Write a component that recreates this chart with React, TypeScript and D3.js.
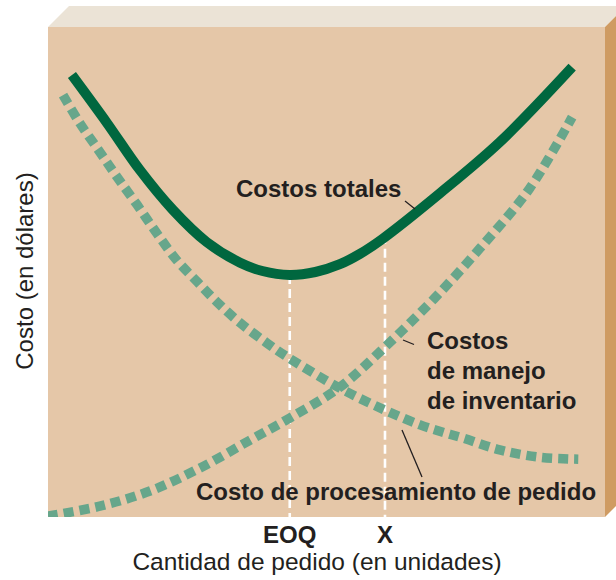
import React from "react";
import * as d3 from "d3";

// Order quantity (0-100) vs cost (0-100)
const totalCost: [number, number][] = [
  [4.3, 90.2], [10.6, 80.4], [16.5, 70.8], [22.4, 62.7], [28.5, 56.1],
  [34.5, 51.9], [38.5, 50.2], [43.4, 49.4], [48.0, 50.0], [52.4, 51.6], [56.0, 53.7],
  [60.1, 56.8], [70.4, 66.1], [81.1, 76.5], [94.1, 91.8],
];
const holdingCost: [number, number][] = [
  [0, 0.2], [9.3, 2.2], [18.3, 5.3], [27.3, 10.0], [36.3, 15.7], [43.4, 20.2],
  [52.4, 26.5], [60.5, 34.7], [69.1, 44.3], [77.6, 54.9], [86.5, 67.1], [94.1, 81.6],
];
const orderCost: [number, number][] = [
  [2.7, 86.1], [5.7, 80.4], [9.3, 74.5], [12.4, 69.4], [16.0, 63.7], [19.6, 57.8],
  [23.2, 52.3], [26.8, 48.0], [30.3, 43.9], [34.5, 39.6], [39.3, 35.5], [42.9, 32.7],
  [52.4, 26.3], [60.5, 21.8], [66.8, 18.8], [70.9, 17.3], [74.5, 16.1], [81.1, 13.7],
  [88.3, 12.2], [95.2, 11.8],
];
const markers: { label: string; q: number; cost: number }[] = [
  { label: "EOQ", q: 43.4, cost: 49.4 },
  { label: "X", q: 60.5, cost: 57.6 },
];
const xTitle = "Cantidad de pedido (en unidades)";
const yTitle = "Costo (en dólares)";
const labelTotal = "Costos totales";
const labelHolding = ["Costos", "de manejo", "de inventario"];
const labelOrder = "Costo de procesamiento de pedido";

const W = 616, H = 580;
const L = 48, R = 605, T = 27, B = 517, D = 21;

export default function App() {
  const x = d3.scaleLinear().domain([0, 100]).range([L, R]);
  const y = d3.scaleLinear().domain([0, 100]).range([B, T]);
  const line = d3.line<[number, number]>().x(d => x(d[0])).y(d => y(d[1])).curve(d3.curveCatmullRom.alpha(0.5));
  const font = "'Liberation Sans', Arial, Helvetica, sans-serif";
  const ink = "#231f20";
  const dashGreen = "#67a68b";
  return (
    <svg width={W} height={H} style={{ position: "absolute", left: 0, top: 0, background: "#fff" }} fontFamily={font}>
      <defs>
        <clipPath id="panel"><rect x={L} y={T} width={R - L} height={B - T} /></clipPath>
      </defs>
      <polygon points={`${L},${T} ${L + D},${T - D} ${R + D},${T - D} ${R},${T}`} fill="#ebe3d6" />
      <polygon points={`${R},${T} ${R + D},${T - D} ${R + D},${B - D} ${R},${B}`} fill="#cf9b62" />
      <rect x={L} y={T} width={R - L} height={B - T} fill="#e5c7a8" />
      <g clipPath="url(#panel)">
        {markers.map(m => (
          <line key={m.label} x1={x(m.q)} x2={x(m.q)} y1={y(m.cost)} y2={B}
            stroke="#fff" strokeWidth={2.6} strokeDasharray="9 5" />
        ))}
        <path d={line(holdingCost) || ""} fill="none" stroke={dashGreen} strokeWidth={9.5} strokeDasharray="10 6" />
        <path d={line(orderCost) || ""} fill="none" stroke={dashGreen} strokeWidth={9.5} strokeDasharray="10 6" />
        <path d={line(totalCost) || ""} fill="none" stroke="#00673f" strokeWidth={10} />
      </g>
      {/* leader lines */}
      <line x1={405} y1={201} x2={415} y2={209} stroke={ink} strokeWidth={1.3} />
      <line x1={403} y1={340} x2={414} y2={344.5} stroke={ink} strokeWidth={1.3} />
      <line x1={402} y1={430} x2={422} y2={477} stroke={ink} strokeWidth={1.3} />
      <g fill={ink} fontWeight="bold" fontSize={24}>
        <text x={236} y={197}>{labelTotal}</text>
        {labelHolding.map((t, i) => (
          <text key={t} x={427} y={349 + i * 30}>{t}</text>
        ))}
        <text x={196} y={500}>{labelOrder}</text>
        {markers.map(m => (
          <text key={m.label} x={x(m.q)} y={543} textAnchor="middle">{m.label}</text>
        ))}
      </g>
      <text x={317} y={570} textAnchor="middle" fontSize={24.5} fill={ink}>{xTitle}</text>
      <text transform="translate(33,271) rotate(-90)" textAnchor="middle" fontSize={24} fill={ink}>{yTitle}</text>
    </svg>
  );
}
